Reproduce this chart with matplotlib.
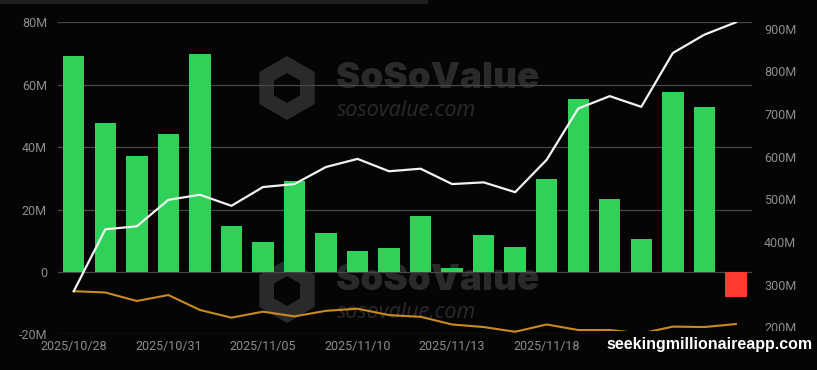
import matplotlib.pyplot as plt
from matplotlib.patches import RegularPolygon, Rectangle

# ─────────────────────────────────────────────────────────────────────────────
dates = ['2025/10/28', '2025/10/29', '2025/10/30', '2025/10/31', '2025/11/03',
         '2025/11/04', '2025/11/05', '2025/11/06', '2025/11/07', '2025/11/10',
         '2025/11/11', '2025/11/12', '2025/11/13', '2025/11/14', '2025/11/17',
         '2025/11/18', '2025/11/19', '2025/11/20', '2025/11/21', '2025/11/24',
         '2025/11/25', '2025/11/26']

# daily net inflow (M)
net_inflow = [69.1, 47.7, 37.1, 44.2, 69.8, 14.6, 9.5, 29.0, 12.5, 6.6, 7.8,
              17.9, 1.4, 11.8, 8.0, 29.9, 55.3, 23.4, 10.4, 57.8, 52.9, -8.2]

# cumulative net inflow (M, right axis)
cum_inflow = [285, 430, 437, 499, 511, 485, 529, 536, 576, 595, 566, 572,
              536, 540, 517, 593, 713, 742, 717, 843, 886, 915]

# total net assets (M, right axis)
net_assets = [285, 282, 262, 276, 241, 223, 237, 226, 239, 244, 229, 225,
              207, 201, 190, 207, 194, 194, 186, 202, 201, 208]

left_ticks = [-20, 0, 20, 40, 60, 80]
left_labels = ['-20M', '0', '20M', '40M', '60M', '80M']
right_ticks = [200, 300, 400, 500, 600, 700, 800, 900]
right_labels = [f'{v}M' for v in right_ticks]
shown_dates = [0, 3, 6, 9, 12, 15]
# ─────────────────────────────────────────────────────────────────────────────

plt.rcParams['font.family'] = ['Roboto', 'DejaVu Sans']

bg = '#050505'
tick_color = '#8c8c8c'
wm = '#2a2a2a'
green = '#30d158'
red = '#ff3b30'

fig = plt.figure(figsize=(8.17, 3.70), dpi=100, facecolor=bg)
ax = fig.add_axes([0.071, 0.0965, 0.849, 0.8432])
ax.set_facecolor(bg)

x = list(range(len(dates)))

# watermarks (pixel centres measured from the top-left), drawn under the axes
for cy in [88, 291]:
    yin = (370 - cy) / 100
    fig.patches.append(RegularPolygon((2.87, yin), 6, radius=0.32,
                                      orientation=0, transform=fig.dpi_scale_trans,
                                      facecolor=wm, edgecolor='none', zorder=-2))
    fig.patches.append(RegularPolygon((2.87, yin), 6, radius=0.15,
                                      orientation=0, transform=fig.dpi_scale_trans,
                                      facecolor=bg, edgecolor='none', zorder=-1.5))
    fig.text(0.411, (370 - cy + 10) / 370, 'SoSoValue', fontsize=26.5,
             fontweight='black', color=wm, va='center', ha='left', zorder=-2,
             family=['Inter', 'DejaVu Sans'])
    fig.text(0.412, (370 - cy - 22) / 370, 'sosovalue.com', fontsize=15.5,
             style='italic', color=wm, va='center', ha='left', zorder=-2,
             family=['Open Sans', 'DejaVu Sans'])

ax.patch.set_alpha(0)

colors = [green if v >= 0 else red for v in net_inflow]
ax.bar(x, net_inflow, width=0.68, color=colors, zorder=3)

ax.set_xlim(-0.5, len(dates) - 0.5)
ax.set_ylim(-20, 80)
ax.set_yticks(left_ticks)
ax.set_yticklabels(left_labels)
ax.grid(axis='y', color='#474747', linewidth=0.9, zorder=1)
ax.set_xticks(shown_dates)
ax.set_xticklabels([dates[i] for i in shown_dates])
ax.tick_params(axis='both', length=0, colors=tick_color, labelsize=9)
ax.tick_params(axis='x', pad=4)
ax.tick_params(axis='y', pad=8)
for s in ax.spines.values():
    s.set_visible(False)

ax2 = ax.twinx()
ax2.patch.set_alpha(0)
ax2.plot(x, net_assets, color='#c98a1e', linewidth=1.5, zorder=4)
ax2.plot(x, cum_inflow, color='#f2f2f2', linewidth=1.6, zorder=5)
ax2.set_ylim(184, 915)
ax2.set_yticks(right_ticks)
ax2.set_yticklabels(right_labels)
ax2.tick_params(axis='y', length=0, colors=tick_color, labelsize=9, pad=9)
for s in ax2.spines.values():
    s.set_visible(False)

# top strip
fig.patches.append(Rectangle((0, 0.99), 0.524, 0.01, transform=fig.transFigure,
                             facecolor='#1e1e1e', edgecolor='none'))

fig.text(0.994, 0.068, 'seekingmillionaireapp.com', fontsize=11.5,
         fontweight='bold', color='white', ha='right', va='center',
         family=['Liberation Sans', 'DejaVu Sans'],
         bbox=dict(boxstyle='square,pad=0.4', facecolor=bg, edgecolor='none'))

fig.savefig('out.png', dpi=100, facecolor=bg)
